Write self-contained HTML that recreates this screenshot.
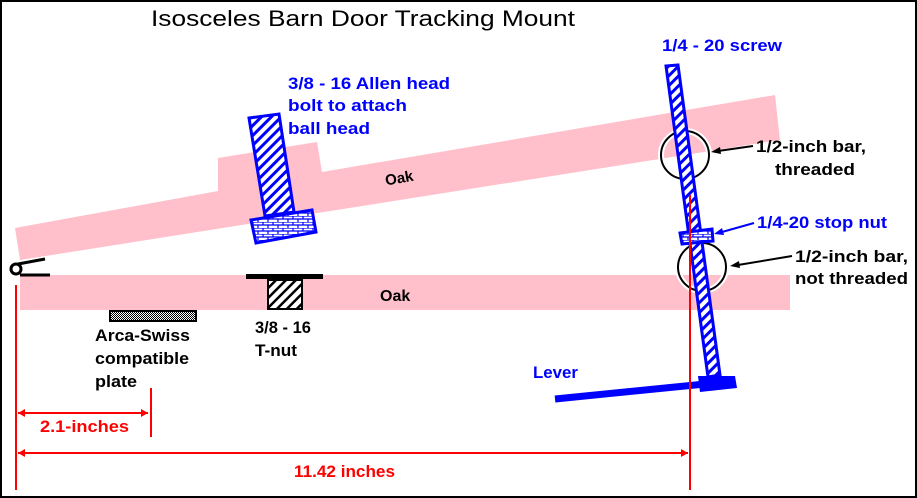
<!DOCTYPE html>
<html><head><style>body{margin:0;background:#fff}svg{display:block}text{font-family:"Liberation Sans",sans-serif;font-weight:bold}</style></head><body>
<svg width="917" height="498" viewBox="0 0 917 498" xmlns="http://www.w3.org/2000/svg">
<defs>
<pattern id="hb" width="7" height="7" patternUnits="userSpaceOnUse" patternTransform="rotate(45)"><rect width="7" height="7" fill="#fff"/><rect width="3" height="7" fill="#00f"/></pattern>
<pattern id="hk" width="7" height="7" patternUnits="userSpaceOnUse" patternTransform="rotate(45)"><rect width="7" height="7" fill="#fff"/><rect width="2.5" height="7" fill="#000"/></pattern>
<pattern id="br" width="10" height="6" patternUnits="userSpaceOnUse"><rect width="10" height="6" fill="#fff"/><path d="M0 0H10M0 3H10M3 0V3M8 3V6" stroke="#00f" stroke-width="1.2"/></pattern>
<pattern id="ck" width="2" height="2" patternUnits="userSpaceOnUse"><rect width="2" height="2" fill="#fff"/><rect width="1" height="1" fill="#000"/><rect x="1" y="1" width="1" height="1" fill="#000"/></pattern>
</defs>
<rect x="1" y="1" width="915" height="496" fill="#fff" stroke="#000" stroke-width="2"/>
<text x="151" y="26" font-size="22" style="font-weight:normal" textLength="424" lengthAdjust="spacingAndGlyphs">Isosceles Barn Door Tracking Mount</text>
<polygon points="15,228 218,191 218,158 317,142 322,172 775,95 780,140 20,260" fill="#ffc0cb"/>
<rect x="20" y="275" width="770" height="35" fill="#ffc0cb"/>
<text x="385" y="183" font-size="15" transform="rotate(-10 400 178)">Oak</text>
<text x="380" y="301" font-size="16">Oak</text>
<circle cx="16" cy="269" r="5" fill="#fff" stroke="#000" stroke-width="3"/>
<path d="M18 264 L45 259 M20 275 H50" stroke="#000" stroke-width="3"/>
<polygon points="249,118 279,114 294,212 265,216" fill="url(#hb)" stroke="#00f" stroke-width="3"/>
<polygon points="251,220 312,210 316,232 256,243" fill="url(#br)" stroke="#00f" stroke-width="3"/>
<rect x="246" y="274" width="77" height="5" fill="#000"/>
<rect x="268" y="280" width="34" height="29" fill="url(#hk)" stroke="#000" stroke-width="2"/>
<rect x="110" y="311" width="86" height="10" fill="url(#ck)" stroke="#000" stroke-width="2"/>
<circle cx="685" cy="155" r="24" fill="none" stroke="#fff" stroke-width="6"/>
<circle cx="685" cy="155" r="24" fill="none" stroke="#000" stroke-width="2"/>
<circle cx="702" cy="267" r="24" fill="none" stroke="#fff" stroke-width="6"/>
<circle cx="702" cy="267" r="24" fill="none" stroke="#000" stroke-width="2"/>
<polygon points="666,66 678,65 720,375 708,377" fill="url(#hb)" stroke="#00f" stroke-width="3"/>
<polygon points="680,233 712,229 713,241 682,244" fill="url(#br)" stroke="#00f" stroke-width="3"/>
<line x1="555" y1="399" x2="735" y2="381" stroke="#00f" stroke-width="7"/>
<polygon points="698,376 735,376 737,388 700,392" fill="#00f"/>
<path d="M690 195 V490 M16 285 V490 M151 388 V437 M18 413 H148 M18 453 H688" stroke="#f00" stroke-width="2" fill="none"/>
<path d="M18 413 l7 -4 v8z M148 413 l-7 -4 v8z M18 453 l7 -4 v8z M688 453 l-7 -4 v8z" fill="#f00"/>
<text x="40" y="432" font-size="17" fill="#f00" textLength="89" lengthAdjust="spacingAndGlyphs">2.1-inches</text>
<text x="294" y="477" font-size="17" fill="#f00" textLength="101" lengthAdjust="spacingAndGlyphs">11.42 inches</text>
<text font-size="17" fill="#00f"><tspan x="288" y="89" textLength="162" lengthAdjust="spacingAndGlyphs">3/8 - 16 Allen head</tspan><tspan x="288" y="111" textLength="119" lengthAdjust="spacingAndGlyphs">bolt to attach</tspan><tspan x="288" y="134" textLength="82" lengthAdjust="spacingAndGlyphs">ball head</tspan></text>
<text x="662" y="51" font-size="17" fill="#00f" textLength="120" lengthAdjust="spacingAndGlyphs">1/4 - 20 screw</text>
<text x="757" y="228" font-size="17" fill="#00f" textLength="130" lengthAdjust="spacingAndGlyphs">1/4-20 stop nut</text>
<path d="M754 223 L722 232" stroke="#00f" stroke-width="2"/><path d="M714 234 l8 -6 l2 7z" fill="#00f"/>
<text font-size="17" fill="#000"><tspan x="756" y="152" textLength="110" lengthAdjust="spacingAndGlyphs">1/2-inch bar,</tspan><tspan x="775" y="175" textLength="80" lengthAdjust="spacingAndGlyphs">threaded</tspan></text>
<path d="M753 146 L718 151" stroke="#000" stroke-width="2"/><path d="M711 152 l9 -5 l1 7z" fill="#000"/>
<text font-size="17" fill="#000"><tspan x="795" y="262" textLength="113" lengthAdjust="spacingAndGlyphs">1/2-inch bar,</tspan><tspan x="795" y="284" textLength="113" lengthAdjust="spacingAndGlyphs">not threaded</tspan></text>
<path d="M792 256 L738 265" stroke="#000" stroke-width="2"/><path d="M730 266 l9 -5 l1 7z" fill="#000"/>
<text font-size="17" fill="#000"><tspan x="95" y="341" textLength="95" lengthAdjust="spacingAndGlyphs">Arca-Swiss</tspan><tspan x="95" y="364" textLength="94" lengthAdjust="spacingAndGlyphs">compatible</tspan><tspan x="95" y="387" textLength="42" lengthAdjust="spacingAndGlyphs">plate</tspan></text>
<text font-size="17" fill="#000"><tspan x="255" y="333" textLength="56" lengthAdjust="spacingAndGlyphs">3/8 - 16</tspan><tspan x="255" y="356" textLength="42" lengthAdjust="spacingAndGlyphs">T-nut</tspan></text>
<text x="533" y="378" font-size="17" fill="#00f" textLength="45" lengthAdjust="spacingAndGlyphs">Lever</text>
</svg>
</body></html>
